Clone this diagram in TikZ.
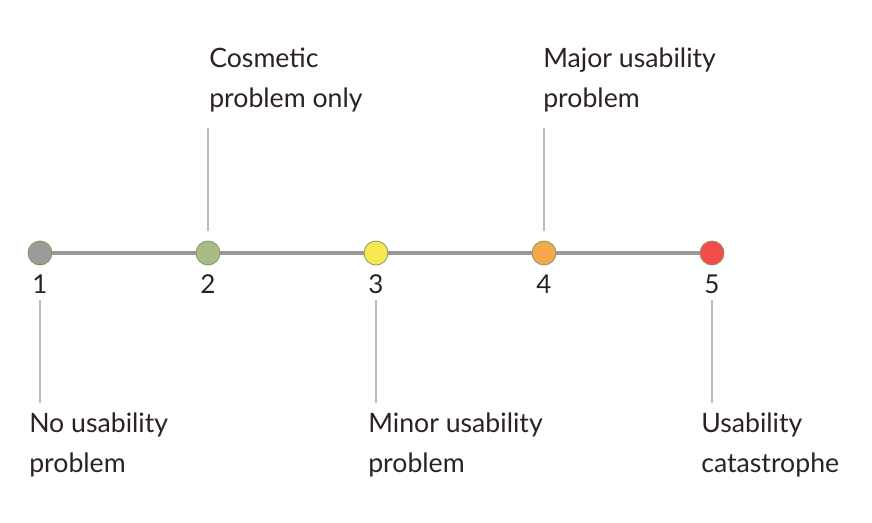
\documentclass[tikz,border=0pt]{standalone}
\usepackage{fontspec}
\setmainfont{Lato}
\definecolor{txt}{HTML}{2D2222}
\definecolor{axis}{HTML}{999999}
\definecolor{lead}{HTML}{BBBBBB}
\definecolor{rim}{HTML}{8A9460}
\definecolor{cA}{HTML}{9B9B9B}
\definecolor{cB}{HTML}{A8BD86}
\definecolor{cC}{HTML}{F6E84F}
\definecolor{cD}{HTML}{F5A84B}
\definecolor{cE}{HTML}{F44C4C}
\begin{document}
\begin{tikzpicture}[x=0.75pt,y=-0.75pt,
  dot/.style={circle,draw=rim,line width=0.6pt,minimum size=18pt,inner sep=0pt},
  num/.style={text=txt,font=\fontsize{19.5}{28}\selectfont,inner sep=0pt},
  lbl/.style={text=txt,font=\fontsize{20}{30}\selectfont,align=left,inner sep=0pt,anchor=north west},
  leader/.style={draw=lead,line width=0.8pt},
  axisline/.style={draw=axis,line width=2.4pt}]
\useasboundingbox (0,0) rectangle (872,522);
\draw[axisline] (40,253) -- (712,253);
\node[dot,fill=cA] (c1) at (40,253) {};
\node[dot,fill=cB] (c2) at (208,253) {};
\node[dot,fill=cC] (c3) at (376,253) {};
\node[dot,fill=cD] (c4) at (544,253) {};
\node[dot,fill=cE] (c5) at (712,253) {};
\node[num] (n1) at (40,284) {1};
\node[num] (n2) at (208,284) {2};
\node[num] (n3) at (376,284) {3};
\node[num] (n4) at (544,284) {4};
\node[num] (n5) at (712,284) {5};
\node[lbl] (l2) at (209,48) {Cosmetic\\problem only};
\node[lbl] (l4) at (543,48) {Major usability\\problem};
\node[lbl] (l1) at (29,413) {No usability\\problem};
\node[lbl] (l3) at (368,413) {Minor usability\\problem};
\node[lbl] (l5) at (701,413) {Usability\\catastrophe};
\coordinate (t2a) at (208,128); \coordinate (t2b) at (208,231);
\coordinate (t4a) at (544,128); \coordinate (t4b) at (544,231);
\coordinate (b1a) at (40,300); \coordinate (b1b) at (40,403);
\coordinate (b3a) at (376,300); \coordinate (b3b) at (376,403);
\coordinate (b5a) at (712,300); \coordinate (b5b) at (712,403);
\draw[leader] (t2a) -- (t2b);
\draw[leader] (t4a) -- (t4b);
\draw[leader] (b1a) -- (b1b);
\draw[leader] (b3a) -- (b3b);
\draw[leader] (b5a) -- (b5b);
\end{tikzpicture}
\end{document}
